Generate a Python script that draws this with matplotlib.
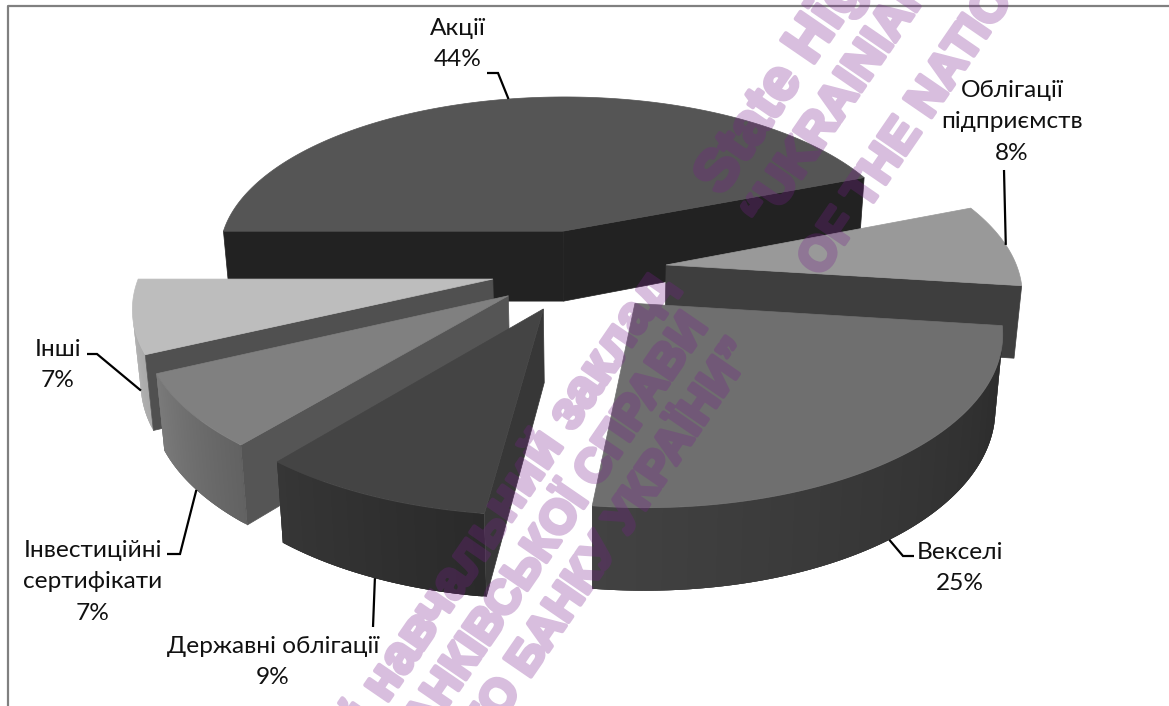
import numpy as np
import matplotlib
matplotlib.use("Agg")
import matplotlib.pyplot as plt
import matplotlib.patheffects as pe
from matplotlib.patches import Polygon

# ---- data ----
categories = ["Акції", "Облігації\nпідприємств", "Векселі", "Державні облігації",
              "Інвестиційні\nсертифікати", "Інші"]
values = [44, 8, 25, 9, 7, 7]

# ---- styling ----
top_colors = ["#555555", "#999999", "#6f6f6f", "#444444", "#808080", "#bdbdbd"]
cut_colors = ["#222222", "#3e3e3e", "#383838", "#373737", "#555555", "#505050"]
wall_start = ["#222222", "#3e3e3e", "#2a2a2a", "#2a2a2a", "#626262", "#aaaaaa"]
wall_end = ["#222222", "#3e3e3e", "#424242", "#363636", "#7a7a7a", "#bebebe"]
label_xy = [(458, 44), (1012, 122), (960, 568), (273, 662), (93, 582), (58, 365)]
leader_via = [[(487, 73), (498, 73)], [(1004, 170)], [(914, 556), (903, 556)], [(373, 627)],
              [(167, 554), (180, 554)], [(87, 354), (97, 354)]]
leader_top = [True, True, False, False, False, False]

START = 270.0
EXPLODE = 0.25
CENTER = (0.015, -0.24)
K, C_V, U_VAN, S, V0 = 0.14, 153.2, 574.0, 340.0, 232.0
U_VAN2, SHRINK = 595.0, 0.982


def project(X, Y):
    d = 1 + K * np.asarray(Y)
    return U_VAN + np.asarray(X) * S / d, V0 - C_V * np.asarray(Y) / d


def lower(u, v):
    return U_VAN2 + (u - U_VAN2) * SHRINK, v + 70 + 0.047 * (v - V0)


def area(p):
    p = np.asarray(p)
    x, y = p[:, 0], p[:, 1]
    return np.sum(x * np.roll(y, -1) - np.roll(x, -1) * y)


def grey_mix(c1, c2, t):
    a, b = np.array(matplotlib.colors.to_rgb(c1)), np.array(matplotlib.colors.to_rgb(c2))
    return tuple(a + (b - a) * t)


def group_alpha(image, dpi):
    out = image.copy()
    out[..., 3] *= 0.29
    return out, 0, 0


fig = plt.figure(figsize=(11.69, 7.06), dpi=100)
ax = fig.add_axes([0, 0, 1, 1])
ax.set_xlim(0, 1169)
ax.set_ylim(706, 0)
ax.axis("off")

ax.plot([8, 8, 1169], [706, 5.5, 5.5], color="#808080", lw=1.6, zorder=1)

total = sum(values)
spans = [v / total * 360 for v in values]
starts = [START + sum(spans[:i]) for i in range(len(values))]
wedges = []
for i, (st, sp) in enumerate(zip(starts, spans)):
    mid = np.radians(st + sp / 2)
    ax_ = CENTER[0] + EXPLODE * np.sin(mid)
    ay_ = CENTER[1] + EXPLODE * np.cos(mid)
    wedges.append((i, st, sp, ax_, ay_))

for z, (i, st, sp, x0, y0) in enumerate(sorted(wedges, key=lambda w: -w[4])):
    base = 10 + z * 5
    th = np.radians(np.linspace(st, st + sp, max(int(sp * 2), 20)))
    U, V = project(x0 + np.sin(th), y0 + np.cos(th))
    Ub, Vb = lower(U, V)
    # outer wall: each strip reaches under the next one, so no seams show
    n = len(th)
    for j in range(n - 1):
        q = [(U[j], V[j]), (U[j + 1], V[j + 1]), (Ub[j + 1], Vb[j + 1]), (Ub[j], Vb[j])]
        if area(q) < 0:
            e = min(j + 3, n - 1)
            qq = [(U[j], V[j])] + list(zip(U[j + 1:e + 1], V[j + 1:e + 1])) + \
                 list(zip(Ub[j + 1:e + 1][::-1], Vb[j + 1:e + 1][::-1])) + [(Ub[j], Vb[j])]
            col = grey_mix(wall_start[i], wall_end[i], j / (n - 2))
            ax.add_patch(Polygon(qq, closed=True, fc=col, ec="none", zorder=base))
    # cut faces
    au, av = project(x0, y0)
    aub, avb = lower(au, av)
    for (ui, vi, ubi, vbi, sign) in ((U[0], V[0], Ub[0], Vb[0], -1), (U[-1], V[-1], Ub[-1], Vb[-1], 1)):
        q = [(au, av), (ui, vi), (ubi, vbi), (aub, avb)]
        if area(q) * sign > 0:
            ax.add_patch(Polygon(q, closed=True, fc=cut_colors[i], ec=cut_colors[i], lw=0.5, zorder=base + 1))
    # top
    pts = [(au, av)] + list(zip(U, V))
    ax.add_patch(Polygon(pts, closed=True, fc=top_colors[i], ec=top_colors[i], lw=0.5, zorder=base + 2))

# labels and leaders
font = ["Lato", "Open Sans", "DejaVu Sans"]
for (i, st, sp, x0, y0) in wedges:
    mid = np.radians(st + sp / 2)
    u, v = project(x0 + np.sin(mid), y0 + np.cos(mid))
    if not leader_top[i]:
        u, v = lower(u, v)
    path = leader_via[i] + [(float(u), float(v))]
    ax.plot([p[0] for p in path], [p[1] for p in path], color="black", lw=1.6,
            solid_joinstyle="miter", solid_capstyle="butt", zorder=60)
    ax.text(label_xy[i][0], label_xy[i][1], f"{categories[i]}\n{values[i]}%", ha="center", va="center",
            fontsize=17.6, family=font, color="#111111", linespacing=1.62, zorder=61)

# watermark
wm_font = ["Liberation Sans Narrow", "Liberation Sans", "DejaVu Sans"]
wm_col = (0.47, 0.12, 0.55)
wm = dict(color=wm_col, fontweight="bold", family=wm_font,
          rotation=55.5, rotation_mode="anchor", zorder=80, va="baseline")
wm_lines = [
    (722, 197, "State Higher Educational Institution", "left", 42),
    (766, 230, "“UKRAINIAN ACADEMY OF BANKING", "left", 35),
    (821, 278, "OF THE NATIONAL BANK OF UKRAINE”", "left", 35),
    (672, 288, "Державний вищий навчальний заклад", "right", 38),
    (708, 327, "УНІВЕРСИТЕТ БАНКІВСЬКОЇ СПРАВИ", "right", 34),
    (754, 352, "НАЦІОНАЛЬНОГО БАНКУ УКРАЇНИ”", "right", 34),
]
for x, y, s, ha, fs in wm_lines:
    t = ax.text(x, y, s, ha=ha, fontsize=fs, **wm)
    t.set_path_effects([pe.withStroke(linewidth=3, foreground=wm_col)])
    t.set_agg_filter(group_alpha)

fig.savefig("out.png", dpi=100)
